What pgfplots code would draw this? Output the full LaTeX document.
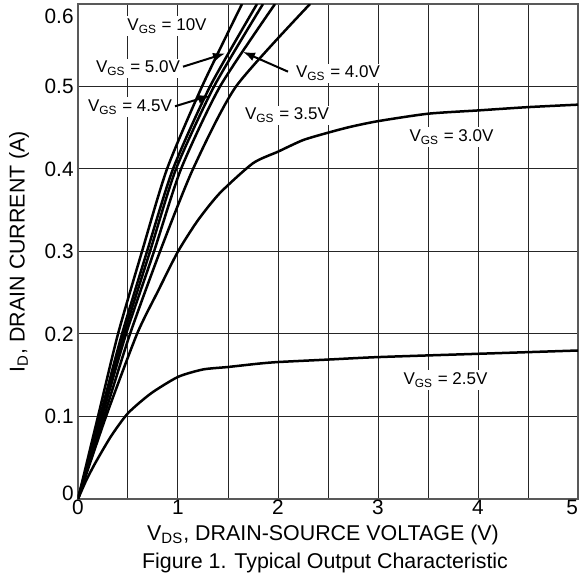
\documentclass[border=0pt]{standalone}
\usepackage{fontspec}
\setmainfont{Liberation Sans}
\usepackage{pgfplots}
\pgfplotsset{compat=1.18}
\usetikzlibrary{arrows.meta}

\newcommand{\vgs}[1]{V\textsubscript{GS} = #1}
\tikzset{lbl/.style={fill=white, inner sep=1.2pt, font=\fontsize{8.5}{10}\selectfont}}
\tikzset{arr/.style={line width=1pt, -{Latex[length=6pt,width=4.5pt]}}}
\tikzset{curve/.style={black, line width=1.25pt, no marks, smooth, tension=0.4}}

\begin{document}
\begin{tikzpicture}
\begin{axis}[
  scale only axis, width=250pt, height=247.5pt,
  xmin=0, xmax=5, ymin=0, ymax=0.6,
  xtick={0,1,2,3,4,5},
  xticklabels={0,1,2,3,4,\makebox[0pt][r]{5}},
  minor xtick={0.5,1.5,2.5,3.5,4.5},
  ytick={0,0.1,0.2,0.3,0.4,0.5,0.6},
  yticklabels={\raisebox{3pt}[\height][\depth]{0},0.1,0.2,0.3,0.4,0.5,\raisebox{-6pt}[\height][\depth]{0.6}},
  grid=both,
  major grid style={black!85, line width=0.5pt},
  minor grid style={black!85, line width=0.5pt},
  major tick length=0pt, minor tick length=0pt,
  axis line style={black!65, line width=0.6pt},
  tick label style={font=\fontsize{10.4}{12}\selectfont},
  xticklabel style={inner sep=0.5pt},
  yticklabel style={inner sep=2pt},
  xlabel={V\textsubscript{DS}, DRAIN-SOURCE VOLTAGE (V)},
  ylabel={I\textsubscript{D}, DRAIN CURRENT (A)},
  label style={font=\fontsize{10.7}{12}\selectfont},
  xlabel style={at={(axis description cs:0.49,-0.073)}, anchor=center},
  ylabel style={at={(axis description cs:-0.118,0.5)}, anchor=center},
  clip=true,
]
% VGS = 10V
\addplot[curve] coordinates {(0,0) (0.2,0.1) (0.40,0.2) (0.64,0.3) (0.89,0.4) (1.24,0.5) (1.64,0.6)};
% VGS = 5.0V
\addplot[curve] coordinates {(0,0) (0.22,0.1) (0.44,0.2) (0.69,0.3) (0.95,0.4) (1.32,0.5) (1.79,0.6)};
% VGS = 4.5V
\addplot[curve] coordinates {(0,0) (0.23,0.1) (0.46,0.2) (0.72,0.3) (0.98,0.4) (1.36,0.5) (1.85,0.6)};
% VGS = 4.0V
\addplot[curve] coordinates {(0,0) (0.24,0.1) (0.48,0.2) (0.76,0.3) (1.03,0.4) (1.42,0.5) (1.97,0.6)};
% VGS = 3.5V
\addplot[curve] coordinates {(0,0) (0.26,0.1) (0.52,0.2) (0.82,0.3) (1.15,0.4) (1.58,0.5) (2.32,0.6)};
% VGS = 3.0V
\addplot[curve] coordinates {(0,0) (0.28,0.1) (0.59,0.2) (0.8,0.252) (1.0,0.3) (1.2,0.338) (1.42,0.371)
  (1.75,0.407) (2,0.421) (2.25,0.435) (2.5,0.444) (2.72,0.451) (3,0.458) (3.5,0.467) (4,0.471) (4.5,0.475) (5,0.478)};
% VGS = 2.5V
\addplot[curve] coordinates {(0,0) (0.08,0.022) (0.17,0.043) (0.33,0.076) (0.5,0.104) (0.73,0.128) (1.0,0.148)
  (1.25,0.157) (1.5,0.16) (1.8,0.164) (2,0.166) (2.5,0.169) (3,0.172) (4,0.176) (5,0.18)};

\node[lbl] at (axis cs:0.89,0.573) {\vgs{10V}};
\node[lbl] at (axis cs:0.60,0.522) {\vgs{5.0V}};
\node[lbl] at (axis cs:0.52,0.475) {\vgs{4.5V}};
\node[lbl] at (axis cs:2.60,0.516) {\vgs{4.0V}};
\node[lbl] at (axis cs:2.09,0.465) {\vgs{3.5V}};
\node[lbl] at (axis cs:3.735,0.439) {\vgs{3.0V}};
\node[lbl] at (axis cs:3.675,0.144) {\vgs{2.5V}};
\draw[arr] (axis cs:1.05,0.524) -- (axis cs:1.47,0.540);
\draw[arr] (axis cs:2.10,0.518) -- (axis cs:1.65,0.542);
\draw[arr] (axis cs:0.97,0.476) -- (axis cs:1.32,0.489);
\end{axis}
\node[font=\fontsize{10.7}{12}\selectfont] at ([xshift=-1.5pt,yshift=-32pt]current axis.south) {Figure 1. Typical Output Characteristic};
\pgfresetboundingbox
\useasboundingbox ([xshift=-39pt,yshift=-39pt]current axis.south west) rectangle ([xshift=0.5pt,yshift=2pt]current axis.north east);
\end{tikzpicture}
\end{document}
